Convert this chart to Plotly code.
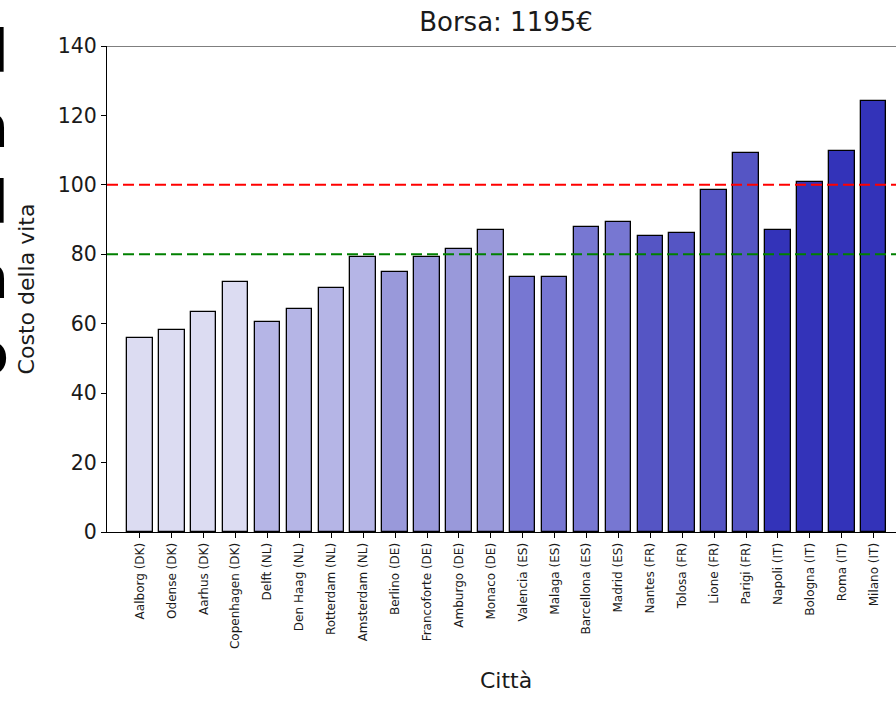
import plotly.graph_objects as go

cities = ['Aalborg (DK)', 'Odense (DK)', 'Aarhus (DK)', 'Copenhagen (DK)',
          'Delft (NL)', 'Den Haag (NL)', 'Rotterdam (NL)', 'Amsterdam (NL)',
          'Berlino (DE)', 'Francoforte (DE)', 'Amburgo (DE)', 'Monaco (DE)',
          'Valencia (ES)', 'Malaga (ES)', 'Barcellona (ES)', 'Madrid (ES)',
          'Nantes (FR)', 'Tolosa (FR)', 'Lione (FR)', 'Parigi (FR)',
          'Napoli (IT)', 'Bologna (IT)', 'Roma (IT)', 'Milano (IT)']
costs = [55.8, 58.2, 63.3, 72.1,
         60.5, 64.1, 70.2, 79.1,
         74.8, 79.1, 81.5, 87.0,
         73.6, 73.6, 87.9, 89.4,
         85.2, 86.0, 98.6, 109.3,
         87.0, 100.9, 109.8, 124.3]
country_colors = {'DK': '#dcdcf2', 'NL': '#b5b5e6', 'DE': '#9999da',
                  'ES': '#7777d2', 'FR': '#5555c4', 'IT': '#3333b9'}
budget = 1195
upper_ref = 100
lower_ref = 80

colors = [country_colors[c.split('(')[1].strip(')')] for c in cities]

fig = go.Figure()
fig.add_trace(go.Bar(x=cities, y=costs, width=0.8, marker_color=colors,
                     marker_line=dict(color='black', width=1.3)))

font = 'DejaVu Sans, sans-serif'

fig.add_hline(y=upper_ref, line=dict(color='#ff0000', width=2, dash='11px,5px'))
fig.add_hline(y=lower_ref, line=dict(color='#008000', width=2, dash='11px,5px'))
# top spine only (the right one is cropped away in the reference)
fig.add_shape(type='line', xref='paper', yref='y', x0=0, x1=1, y0=140, y1=140,
              line=dict(color='black', width=1.2))

fig.update_layout(
    width=896, height=717,
    margin=dict(l=107, r=0, t=46, b=185),
    plot_bgcolor='white', paper_bgcolor='white',
    showlegend=False, bargap=0,
    font=dict(family=font, color='#1a1a1a'),
    title=dict(text=f'Borsa: {budget}€', x=(506 / 896), xanchor='center',
               y=1 - 22 / 717, yanchor='middle', font=dict(size=26)),
)
fig.update_xaxes(range=[-1.03, 23.70], showline=True, linecolor='black', linewidth=1.2,
                 ticks='outside', ticklen=5, tickcolor='black', tickangle=-90,
                 tickfont=dict(size=12), showgrid=False)
fig.update_yaxes(range=[0, 140], dtick=20, showline=True, linecolor='black', linewidth=1.2,
                 ticks='outside', ticklen=5, tickcolor='black', tickfont=dict(size=20.5),
                 showgrid=False, zeroline=False,
                 title=dict(text='Costo della vita', font=dict(size=22), standoff=16))

# x title centred on the full (cropped) axes, as in the reference
fig.add_annotation(text='Città', xref='paper', yref='paper',
                   x=(506 - 107) / 789, y=(532 - 680) / 486, xanchor='center', yanchor='middle',
                   showarrow=False, font=dict(size=22))

# large text cut off at the left edge of the reference image
fig.add_annotation(text='<b>d<br>n<br>d<br>n<br>o</b>', xref='paper', yref='paper',
                   x=(11 - 107) / 789, y=(532 - 16) / 486, xanchor='right', yanchor='top',
                   align='right', showarrow=False,
                   font=dict(family=font, size=58, color='black'))

fig.write_html('out.html', config={'displayModeBar': False},
               post_script="document.body.style.margin='0';")
